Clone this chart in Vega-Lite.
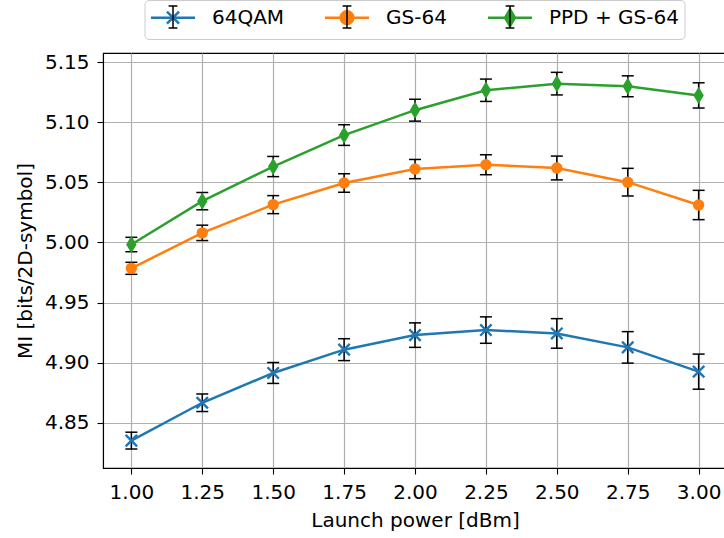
{
  "$schema": "https://vega.github.io/schema/vega-lite/v6.json",
  "autosize": {"type": "none"},
  "padding": {"left": 103, "top": 53, "right": 0, "bottom": 70},
  "width": 624,
  "height": 415,
  "background": "white",
  "data": {
    "values": [
      {"series": "64QAM", "power": 1.00, "mi": 4.8351, "lo": 4.8281, "hi": 4.8421},
      {"series": "64QAM", "power": 1.25, "mi": 4.8666, "lo": 4.8593, "hi": 4.8739},
      {"series": "64QAM", "power": 1.50, "mi": 4.8914, "lo": 4.8827, "hi": 4.9001},
      {"series": "64QAM", "power": 1.75, "mi": 4.9108, "lo": 4.9017, "hi": 4.9199},
      {"series": "64QAM", "power": 2.00, "mi": 4.9229, "lo": 4.9127, "hi": 4.9331},
      {"series": "64QAM", "power": 2.25, "mi": 4.9271, "lo": 4.9161, "hi": 4.9381},
      {"series": "64QAM", "power": 2.50, "mi": 4.9243, "lo": 4.9120, "hi": 4.9366},
      {"series": "64QAM", "power": 2.75, "mi": 4.9127, "lo": 4.8996, "hi": 4.9258},
      {"series": "64QAM", "power": 3.00, "mi": 4.8925, "lo": 4.8779, "hi": 4.9071},
      {"series": "GS-64", "power": 1.00, "mi": 4.9785, "lo": 4.9735, "hi": 4.9835},
      {"series": "GS-64", "power": 1.25, "mi": 5.0080, "lo": 5.0016, "hi": 5.0144},
      {"series": "GS-64", "power": 1.50, "mi": 5.0315, "lo": 5.0240, "hi": 5.0390},
      {"series": "GS-64", "power": 1.75, "mi": 5.0495, "lo": 5.0418, "hi": 5.0572},
      {"series": "GS-64", "power": 2.00, "mi": 5.0611, "lo": 5.0531, "hi": 5.0691},
      {"series": "GS-64", "power": 2.25, "mi": 5.0647, "lo": 5.0564, "hi": 5.0730},
      {"series": "GS-64", "power": 2.50, "mi": 5.0620, "lo": 5.0521, "hi": 5.0719},
      {"series": "GS-64", "power": 2.75, "mi": 5.0502, "lo": 5.0387, "hi": 5.0617},
      {"series": "GS-64", "power": 3.00, "mi": 5.0312, "lo": 5.0190, "hi": 5.0434},
      {"series": "PPD + GS-64", "power": 1.00, "mi": 4.9983, "lo": 4.9923, "hi": 5.0043},
      {"series": "PPD + GS-64", "power": 1.25, "mi": 5.0344, "lo": 5.0272, "hi": 5.0416},
      {"series": "PPD + GS-64", "power": 1.50, "mi": 5.0632, "lo": 5.0548, "hi": 5.0716},
      {"series": "PPD + GS-64", "power": 1.75, "mi": 5.0894, "lo": 5.0808, "hi": 5.0980},
      {"series": "PPD + GS-64", "power": 2.00, "mi": 5.1101, "lo": 5.1010, "hi": 5.1192},
      {"series": "PPD + GS-64", "power": 2.25, "mi": 5.1267, "lo": 5.1174, "hi": 5.1360},
      {"series": "PPD + GS-64", "power": 2.50, "mi": 5.1322, "lo": 5.1228, "hi": 5.1416},
      {"series": "PPD + GS-64", "power": 2.75, "mi": 5.1300, "lo": 5.1213, "hi": 5.1387},
      {"series": "PPD + GS-64", "power": 3.00, "mi": 5.1224, "lo": 5.1119, "hi": 5.1329}
    ]
  },
  "encoding": {
    "x": {
      "field": "power", "type": "quantitative",
      "scale": {"domain": [0.9, 3.1], "nice": false, "zero": false},
      "axis": {
        "values": [1, 1.25, 1.5, 1.75, 2, 2.25, 2.5, 2.75, 3],
        "format": ".2f",
        "title": "Launch power [dBm]",
        "titleY": 58,
        "titleBaseline": "alphabetic"
      }
    }
  },
  "layer": [
    {
      "mark": {"type": "tick", "orient": "horizontal", "size": 12, "thickness": 1.5, "color": "black", "opacity": 1},
      "encoding": {
        "y": {"field": "hi", "type": "quantitative"}
      }
    },
    {
      "mark": {"type": "tick", "orient": "horizontal", "size": 12, "thickness": 1.5, "color": "black", "opacity": 1},
      "encoding": {
        "y": {"field": "lo", "type": "quantitative"}
      }
    },
    {
      "mark": {"type": "rule", "color": "black", "strokeWidth": 1.5},
      "encoding": {
        "y": {"field": "lo", "type": "quantitative"},
        "y2": {"field": "hi"}
      }
    },
    {
      "mark": {"type": "line", "strokeWidth": 2.5},
      "encoding": {
        "y": {
          "field": "mi", "type": "quantitative",
          "scale": {"domain": [4.8123, 5.1577], "nice": false, "zero": false},
          "axis": {
            "values": [4.85, 4.9, 4.95, 5.0, 5.05, 5.1, 5.15],
            "format": ".2f",
            "title": "MI [bits/2D-symbol]",
            "titleX": -72,
            "titleY": 207.5,
            "titleAngle": -90,
            "titleAlign": "center",
            "titleBaseline": "alphabetic"
          }
        },
        "color": {
          "field": "series", "type": "nominal",
          "scale": {"range": ["#1f77b4", "#ff7f0e", "#2ca02c"]},
          "legend": {
            "title": null, "orient": "none", "legendX": 41.5, "legendY": -53,
            "fillColor": "#ffffff", "strokeColor": "#cccccc", "cornerRadius": 4,
            "encode": {
              "symbols": {
                "update": {
                  "shape": {"signal": "datum.value === '64QAM' ? 'M-1,0H3M0.45,-0.55L1.55,0.55M0.45,0.55L1.55,-0.55M1,-1.02L1,-1.02M1,1.02L1,1.02' : datum.value === 'GS-64' ? 'M-1,0H3M1.57,0A0.57,0.57 0 1,1 0.43,0A0.57,0.57 0 1,1 1.57,0ZM1,-1.02L1,-1.02M1,1.02L1,1.02' : 'M-1,0H3M1,-0.77L1.45,0L1,0.77L0.55,0ZM1,-1.02L1,-1.02M1,1.02L1,1.02'"},
                  "fill": {"signal": "scale('color', datum.value)"},
                  "stroke": {"signal": "scale('color', datum.value)"},
                  "strokeWidth": {"value": 2.5},
                  "opacity": {"value": 1}
                }
              }
            }
          }
        }
      }
    },
    {
      "transform": [{"filter": "datum.series === '64QAM'"}],
      "mark": {"type": "point", "filled": false, "shape": "M-1,-1L1,1M-1,1L1,-1", "size": 130, "strokeWidth": 2.4, "opacity": 1},
      "encoding": {
        "y": {"field": "mi", "type": "quantitative"},
        "color": {"field": "series", "type": "nominal"}
      }
    },
    {
      "transform": [{"filter": "datum.series === 'GS-64'"}],
      "mark": {"type": "point", "filled": true, "shape": "circle", "size": 130, "opacity": 1},
      "encoding": {
        "y": {"field": "mi", "type": "quantitative"},
        "color": {"field": "series", "type": "nominal"}
      }
    },
    {
      "transform": [{"filter": "datum.series === 'PPD + GS-64'"}],
      "mark": {"type": "point", "filled": true, "shape": "M0,-1L0.6,0L0,1L-0.6,0Z", "size": 300, "opacity": 1},
      "encoding": {
        "y": {"field": "mi", "type": "quantitative"},
        "color": {"field": "series", "type": "nominal"}
      }
    },
    {
      "transform": [{"filter": "false"}],
      "mark": {"type": "point", "filled": false, "color": "black", "strokeWidth": 1.5, "opacity": 1},
      "encoding": {
        "y": {"field": "mi", "type": "quantitative"},
        "shape": {
          "field": "series", "type": "nominal",
          "scale": {
            "domain": ["64QAM", "GS-64", "PPD + GS-64"],
            "range": [
              "M-1.045,0L-1.045,0M11.035,0L11.035,0M1,-1V1M0.6,-1H1.4M0.6,1H1.4M1,-1.07L1,-1.07M1,1.07L1,1.07",
              "M-1.045,0L-1.045,0M10.01,0L10.01,0M1,-1V1M0.6,-1H1.4M0.6,1H1.4M1,-1.07L1,-1.07M1,1.07L1,1.07",
              "M-1.045,0L-1.045,0M16.282,0L16.282,0M1,-1V1M0.6,-1H1.4M0.6,1H1.4M1,-1.07L1,-1.07M1,1.07L1,1.07"
            ]
          },
          "legend": {
            "title": null, "orient": "none", "legendX": 41.5, "legendY": -53,
            "fillColor": "transparent", "strokeColor": "transparent",
            "labelExpr": "''",
            "symbolStrokeWidth": 1.5,
            "symbolStrokeColor": "black",
            "symbolFillColor": "transparent",
            "symbolOpacity": 1,
            "symbolOffset": 0.5
          }
        }
      }
    }
  ],
  "config": {
    "font": "DejaVu Sans",
    "view": {"stroke": "black", "strokeWidth": 1.1},
    "axis": {
      "labelFont": "DejaVu Sans",
      "labelFontSize": 20,
      "labelColor": "black",
      "labelPadding": 8,
      "titleFont": "DejaVu Sans",
      "titleFontSize": 20,
      "titleFontWeight": "normal",
      "titleColor": "black",
      "domainColor": "black",
      "domainWidth": 1.1,
      "tickColor": "black",
      "tickWidth": 1.1,
      "tickSize": 6,
      "grid": true,
      "gridColor": "#b0b0b0",
      "gridWidth": 1.2,
      "labelFlush": false,
      "labelOverlap": false
    },
    "legend": {
      "direction": "horizontal",
      "symbolSize": 484,
      "symbolStrokeWidth": 2.5,
      "labelFont": "DejaVu Sans",
      "labelFontSize": 20,
      "labelColor": "black",
      "labelOffset": 37.5,
      "columnPadding": 35,
      "padding": 5,
      "labelLimit": 300
    }
  }
}
